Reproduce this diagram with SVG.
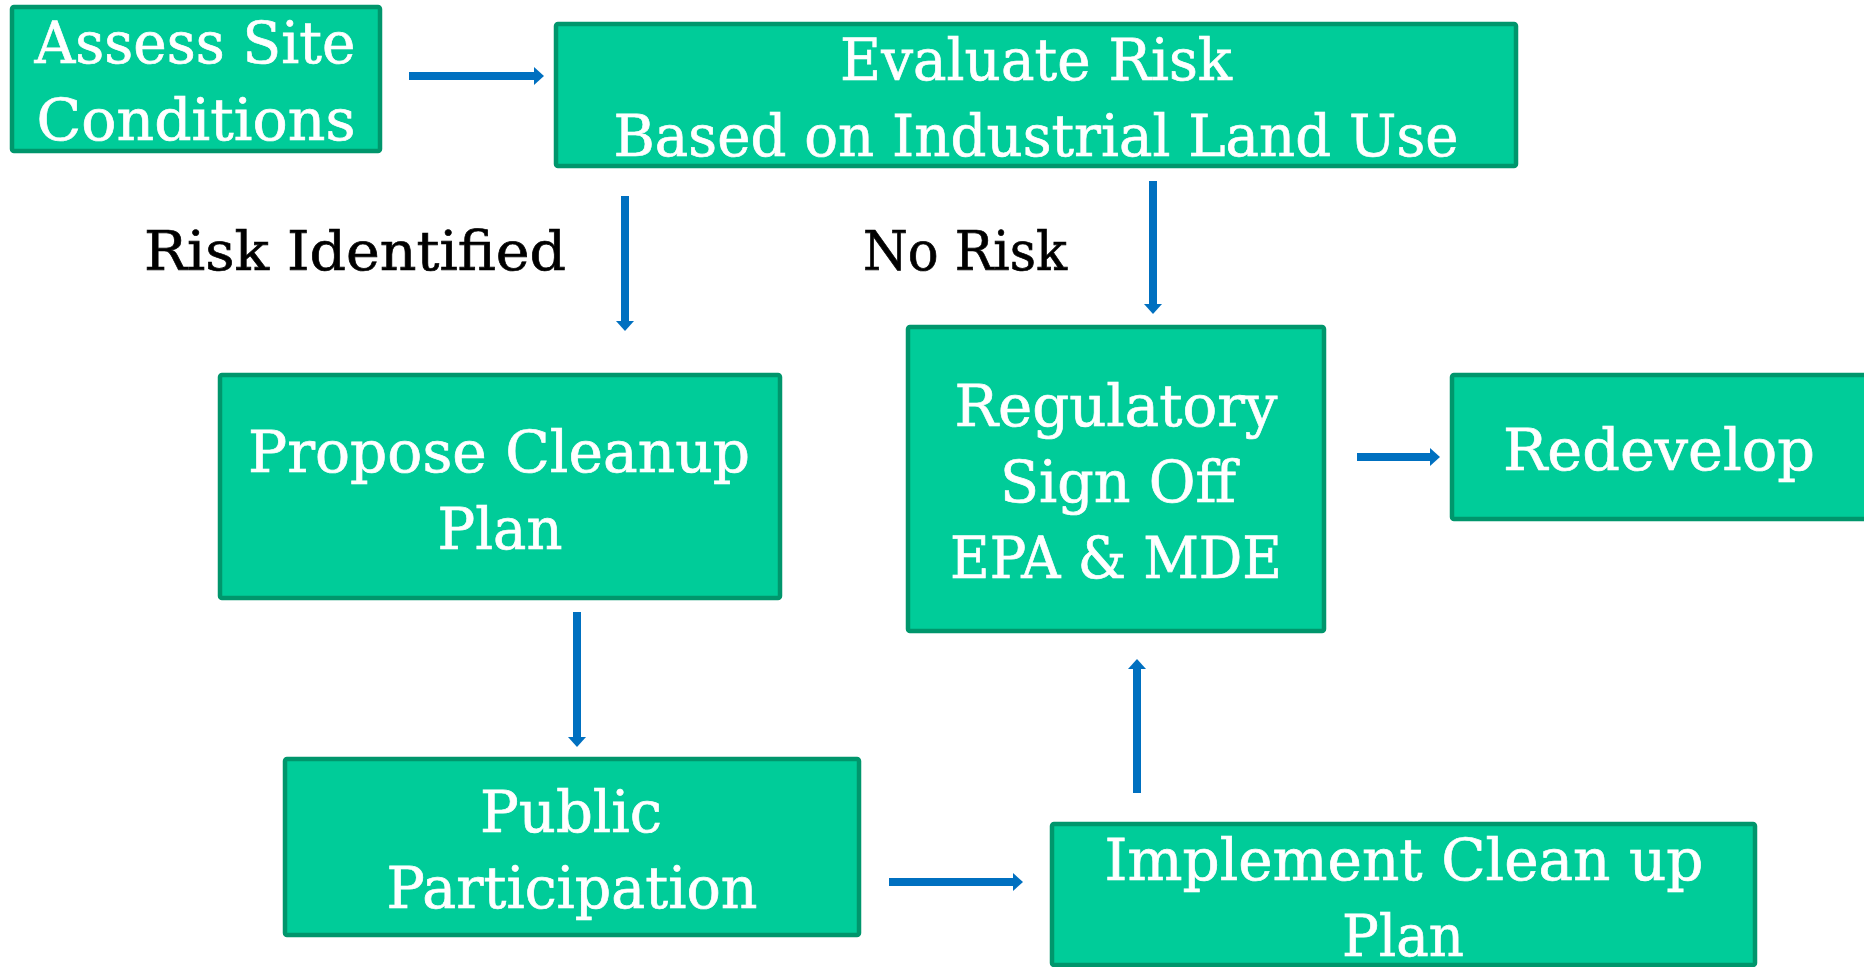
<svg xmlns="http://www.w3.org/2000/svg" width="1864" height="967" viewBox="0 0 1864 967">
  <style>
    .box { fill: #00CC99; stroke: #00966C; stroke-width: 4.5; }
    .t { font-family: "DejaVu Serif", "Liberation Serif", serif; font-size: 58px; fill: #FFFFFF; stroke: #FFFFFF; stroke-width: 0.7; text-anchor: middle; }
    .lbl { font-family: "DejaVu Serif", "Liberation Serif", serif; font-size: 55px; fill: #000000; stroke: #000000; stroke-width: 0.7; }
    .arr { stroke: #0070C0; stroke-width: 8; fill: none; marker-end: url(#ah); }
  </style>
  <defs>
    <marker id="ah" viewBox="0 0 10 18" refX="0" refY="9" markerWidth="1.25" markerHeight="2.25" orient="auto" markerUnits="strokeWidth">
      <path d="M0,0 L10,9 L0,18 Z" fill="#0070C0"/>
    </marker>
  </defs>
  <rect width="1864" height="967" fill="#FFFFFF"/>

  <g id="assess">
    <rect class="box" x="12" y="7" width="368" height="144" rx="2"/>
    <text class="t" x="195" y="63" textLength="321" lengthAdjust="spacingAndGlyphs">Assess Site</text>
    <text class="t" x="196" y="140" textLength="319" lengthAdjust="spacingAndGlyphs">Conditions</text>
  </g>
  <g id="evaluate">
    <rect class="box" x="556" y="24" width="960" height="142" rx="2"/>
    <text class="t" x="1036" y="80" textLength="392" lengthAdjust="spacingAndGlyphs">Evaluate Risk</text>
    <text class="t" x="1036" y="156" textLength="845" lengthAdjust="spacingAndGlyphs">Based on Industrial Land Use</text>
  </g>
  <g id="propose">
    <rect class="box" x="220" y="375" width="560" height="223" rx="2"/>
    <text class="t" x="499" y="472" textLength="502" lengthAdjust="spacingAndGlyphs">Propose Cleanup</text>
    <text class="t" x="500" y="549" textLength="125" lengthAdjust="spacingAndGlyphs">Plan</text>
  </g>
  <g id="regulatory">
    <rect class="box" x="908" y="327" width="416" height="304" rx="2"/>
    <text class="t" x="1116" y="426" textLength="323" lengthAdjust="spacingAndGlyphs">Regulatory</text>
    <text class="t" x="1118" y="502" textLength="236" lengthAdjust="spacingAndGlyphs">Sign Off</text>
    <text class="t" x="1116" y="578" textLength="332" lengthAdjust="spacingAndGlyphs">EPA &amp; MDE</text>
  </g>
  <g id="redevelop">
    <rect class="box" x="1452" y="375" width="500" height="144" rx="2"/>
    <text class="t" x="1659" y="470" textLength="312" lengthAdjust="spacingAndGlyphs">Redevelop</text>
  </g>
  <g id="public">
    <rect class="box" x="285" y="759" width="574" height="176" rx="2"/>
    <text class="t" x="571" y="832" textLength="182" lengthAdjust="spacingAndGlyphs">Public</text>
    <text class="t" x="572" y="908" textLength="371" lengthAdjust="spacingAndGlyphs">Participation</text>
  </g>
  <g id="implement">
    <rect class="box" x="1052" y="824" width="703" height="141" rx="2"/>
    <text class="t" x="1404" y="880" textLength="599" lengthAdjust="spacingAndGlyphs">Implement Clean up</text>
    <text class="t" x="1403" y="956" textLength="122" lengthAdjust="spacingAndGlyphs">Plan</text>
  </g>

  <g id="labels">
    <text class="lbl" x="144" y="270" textLength="422" lengthAdjust="spacingAndGlyphs">Risk Identified</text>
    <text class="lbl" x="863" y="270" textLength="204" lengthAdjust="spacingAndGlyphs">No Risk</text>
  </g>

  <g id="connectors">
    <line class="arr" x1="409" y1="76" x2="534" y2="76"/>
    <line class="arr" x1="625" y1="196" x2="625" y2="321"/>
    <line class="arr" x1="1153" y1="181" x2="1153" y2="304"/>
    <line class="arr" x1="577" y1="612" x2="577" y2="737"/>
    <line class="arr" x1="1357" y1="457" x2="1430" y2="457"/>
    <line class="arr" x1="889" y1="882" x2="1013" y2="882"/>
    <line class="arr" x1="1137" y1="793" x2="1137" y2="669"/>
  </g>
</svg>
